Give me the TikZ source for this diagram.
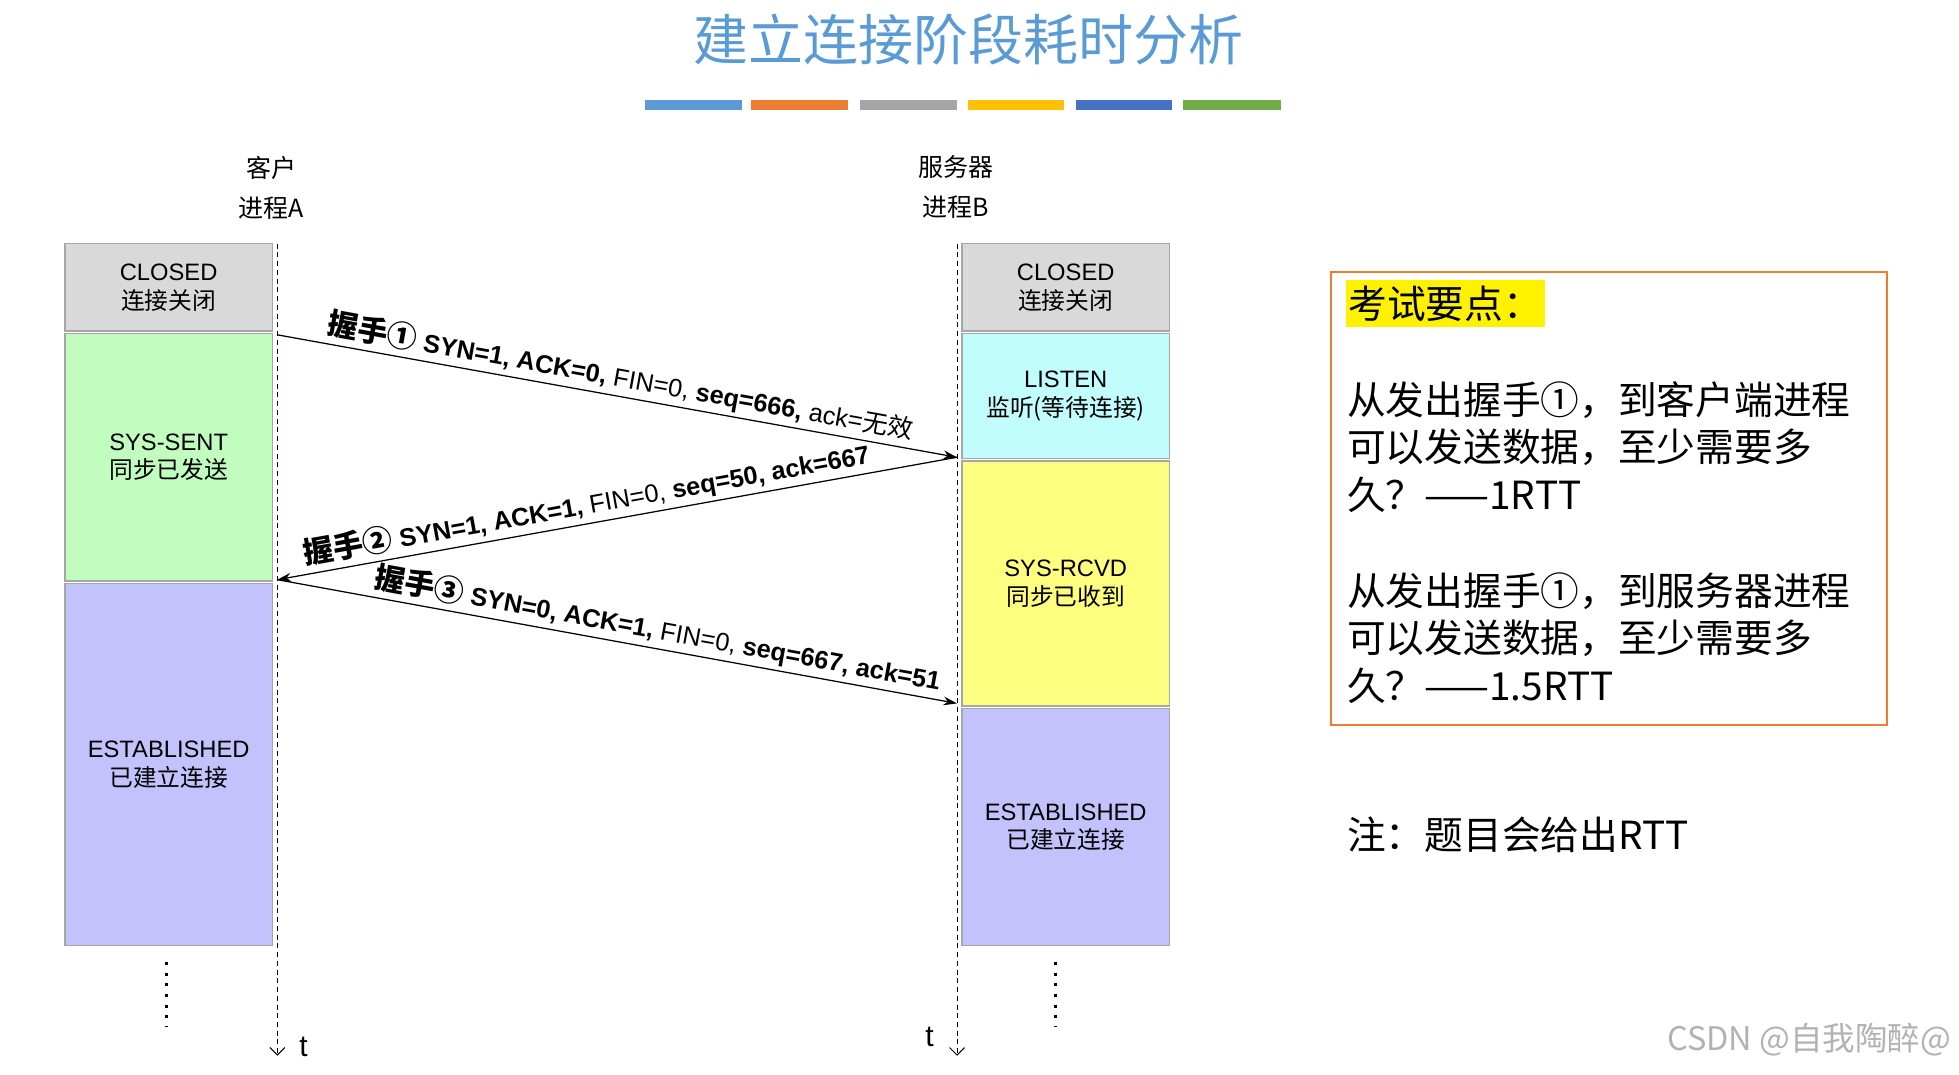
\documentclass[tikz,border=0pt]{standalone}
\usepackage{fontspec}
\setmainfont{Liberation Sans}
\newfontfamily\cjk{Noto Sans CJK SC}
\newcommand\hsf{\cjk\bfseries\fontsize{24}{26}\selectfont}
\usetikzlibrary{arrows.meta}
\definecolor{cA}{HTML}{5B9BD5}
\definecolor{cB}{HTML}{ED7D31}
\definecolor{cC}{HTML}{A5A5A5}
\definecolor{cD}{HTML}{FFC000}
\definecolor{cE}{HTML}{4472C4}
\definecolor{cF}{HTML}{70AD47}
\definecolor{gclosed}{HTML}{D9D9D9}
\definecolor{gsent}{HTML}{C2FDC0}
\definecolor{gest}{HTML}{C4C2FD}
\definecolor{glisten}{HTML}{C2FDFD}
\definecolor{grcvd}{HTML}{FDFD80}
\begin{document}
\begin{tikzpicture}[x=1pt,y=-1pt,
  st/.style={draw=gray!70,line width=1pt,minimum width=166pt,inner sep=0pt,align=center,font=\fontsize{19}{23}\selectfont},
  tl/.style={dash pattern=on 4pt off 3pt,line width=0.8pt,-{Straight Barb[length=6pt]}},
  msg/.style={line width=1pt,-{Stealth[length=11pt,width=7pt]}},
  lbl/.style={sloped,above,inner sep=3pt,font=\fontsize{20.3}{24}\selectfont},
  big/.style={font=\cjk\fontsize{31}{38}\selectfont,align=left,anchor=west,inner sep=0pt}]
\useasboundingbox (0,0) rectangle (1568,860);
\node (title) at (775,32) {\cjk\fontsize{44}{50}\selectfont\color{cA}建立连接阶段耗时分析};
\foreach \a/\b/\c in {516/594/cA,601/679/cB,688/766/cC,775/852/cD,861/938/cE,947/1025/cF}
  \fill[\c] (\a,80) rectangle (\b,88);
\node[align=center,font=\cjk\fontsize{20}{32}\selectfont] (ca) at (217,150) {客户\\进程A};
\node[align=center,font=\cjk\fontsize{20}{32}\selectfont] (sb) at (765,150) {服务器\\进程B};
% client states
\node[st,fill=gclosed,minimum height=70pt] (c1) at (135,230) {CLOSED\\\cjk 连接关闭};
\node[st,fill=gsent,minimum height=198pt] (c2) at (135,366) {SYS-SENT\\\cjk 同步已发送};
\node[st,fill=gest,minimum height=290pt] (c3) at (135,612) {ESTABLISHED\\\cjk 已建立连接};
% server states
\node[st,fill=gclosed,minimum height=70pt] (s1) at (853,230) {CLOSED\\\cjk 连接关闭};
\node[st,fill=glisten,minimum height=100pt] (s2) at (853,317) {LISTEN\\\cjk 监听(等待连接)};
\node[st,fill=grcvd,minimum height=196pt] (s3) at (853,467) {SYS-RCVD\\\cjk 同步已收到};
\node[st,fill=gest,minimum height=190pt] (s4) at (853,662) {ESTABLISHED\\\cjk 已建立连接};
% timelines
\coordinate (ta0) at (222,195); \coordinate (ta1) at (222,845);
\coordinate (tb0) at (766,195); \coordinate (tb1) at (766,845);
\draw[tl] (ta0) -- (ta1);
\draw[tl] (tb0) -- (tb1);
\node[font=\fontsize{24}{26}\selectfont] (t1) at (243,838) {t};
\node[font=\fontsize{24}{26}\selectfont] (t2) at (744,830) {t};
\draw[line width=2.2pt,dash pattern=on 2.5pt off 6pt] (133,770) -- (133,822);
\draw[line width=2.2pt,dash pattern=on 2.5pt off 6pt] (845,770) -- (845,822);
% messages
\coordinate (p1) at (222,268); \coordinate (p2) at (766,366);
\coordinate (p3) at (222,464); \coordinate (p4) at (766,563);
\draw[msg] (p1) -- node[lbl,pos=0.5]{{\hsf 握手①} \textbf{SYN=1, ACK=0,} FIN=0, \textbf{seq=666,} ack={\cjk 无效}} (p2);
\draw[msg] (p2) -- node[lbl,pos=0.54]{{\hsf 握手②} \textbf{SYN=1, ACK=1,} FIN=0, \textbf{seq=50, ack=667}} (p3);
\draw[msg] (p3) -- node[lbl,pos=0.555]{{\hsf 握手③} \textbf{SYN=0, ACK=1,} FIN=0, \textbf{seq=667, ack=51}} (p4);
% key points
\draw[cB,line width=1.5pt] (1065,218) rectangle (1510,580);
\fill[yellow] (1077,224) rectangle (1237,262);
\node[big] (kp) at (1079,243) {考试要点：};
\node[big,anchor=north west] (q1) at (1078,305) {从发出握手①，到客户端进程\\可以发送数据，至少需要多\\久？——1RTT};
\node[big,anchor=north west] (q2) at (1078,458) {从发出握手①，到服务器进程\\可以发送数据，至少需要多\\久？——1.5RTT};
\node[big] (note) at (1078,668) {注：题目会给出RTT};
\node[anchor=east,font=\cjk\fontsize{26}{30}\selectfont,text=gray!60] (csdn) at (1565,832) {CSDN @自我陶醉@};
\end{tikzpicture}
\end{document}
